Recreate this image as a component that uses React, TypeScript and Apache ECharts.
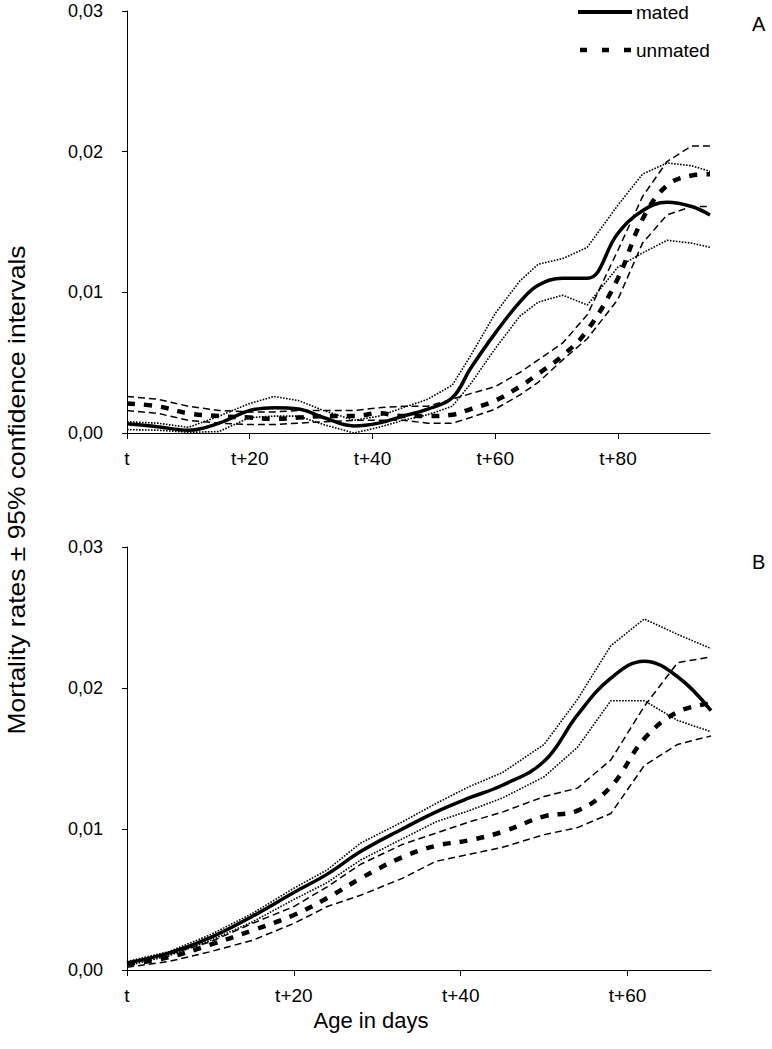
import React, { useEffect, useRef } from "react";
import * as echarts from "echarts";

// ---------- Panel A (x max 95 days) ----------
const daysA = [0, 5, 10, 15, 20, 24, 28, 32, 37, 41, 45, 49, 53, 56, 60, 64, 67, 71, 75, 80, 84, 88, 92, 95];
const matedA = [0.00066, 0.00045, 0.0002, 0.0007, 0.0016, 0.0018, 0.0017, 0.0011, 0.0005, 0.0007, 0.0012, 0.0017, 0.0025, 0.0046, 0.0071, 0.0093, 0.0105, 0.011, 0.011, 0.0142, 0.0158, 0.0164, 0.0161, 0.0155];
const matedUpA = [0.0008, 0.0007, 0.0004, 0.0012, 0.0021, 0.0026, 0.0023, 0.0016, 0.0009, 0.0012, 0.0018, 0.0024, 0.0034, 0.0055, 0.0085, 0.0108, 0.012, 0.0124, 0.0132, 0.0162, 0.0184, 0.0192, 0.019, 0.0186];
const matedLoA = [0.00024, 0.0002, 0.00005, 0.0001, 0.0011, 0.0012, 0.0012, 0.0006, 0.0, 0.0004, 0.0009, 0.0013, 0.0019, 0.0035, 0.006, 0.0083, 0.0093, 0.0098, 0.0091, 0.0118, 0.0128, 0.0137, 0.0135, 0.0132];
const unmatedA = [0.0021, 0.0019, 0.0014, 0.0012, 0.0011, 0.001, 0.0011, 0.0012, 0.0012, 0.0014, 0.0012, 0.0012, 0.0013, 0.0017, 0.0023, 0.0033, 0.0042, 0.0055, 0.0073, 0.011, 0.0152, 0.0176, 0.0183, 0.0184];
const unmatedUpA = [0.0026, 0.0024, 0.0019, 0.0016, 0.0015, 0.0015, 0.0016, 0.0016, 0.0016, 0.0018, 0.0019, 0.0019, 0.0024, 0.0028, 0.0033, 0.0043, 0.0052, 0.0064, 0.0084, 0.013, 0.0168, 0.0193, 0.0204, 0.0204];
const unmatedLoA = [0.0016, 0.0014, 0.0009, 0.0007, 0.0006, 0.0006, 0.0007, 0.0008, 0.0009, 0.0009, 0.0009, 0.0007, 0.0007, 0.0011, 0.0017, 0.0027, 0.0036, 0.0052, 0.0067, 0.0095, 0.0135, 0.0155, 0.0161, 0.0161];

// ---------- Panel B (x max 70 days) ----------
const daysB = [0, 5, 10, 15, 20, 24, 28, 33, 37, 41, 45, 50, 54, 58, 62, 66, 70];
const matedB = [0.0005, 0.0012, 0.0023, 0.0038, 0.0055, 0.0068, 0.0084, 0.01, 0.0112, 0.0122, 0.0131, 0.0148, 0.0181, 0.0207, 0.0219, 0.0208, 0.0184];
const matedUpB = [0.0006, 0.0013, 0.0025, 0.004, 0.0058, 0.0071, 0.009, 0.0105, 0.0118, 0.013, 0.014, 0.016, 0.0192, 0.023, 0.0249, 0.0238, 0.0228];
const matedLoB = [0.0003, 0.001, 0.0021, 0.0034, 0.005, 0.0062, 0.0078, 0.0093, 0.0105, 0.0113, 0.0122, 0.0137, 0.0158, 0.0191, 0.0191, 0.0177, 0.0169];
const unmatedB = [0.0004, 0.0009, 0.0018, 0.0028, 0.0039, 0.0051, 0.0065, 0.008, 0.0088, 0.0092, 0.0098, 0.0109, 0.0113, 0.013, 0.0164, 0.0183, 0.0189];
const unmatedUpB = [0.0005, 0.0011, 0.002, 0.0033, 0.0045, 0.0059, 0.0075, 0.0089, 0.0097, 0.0105, 0.0112, 0.0123, 0.0129, 0.0149, 0.0187, 0.0218, 0.0222];
const unmatedLoB = [0.0002, 0.0006, 0.0013, 0.0021, 0.0033, 0.0045, 0.0053, 0.0065, 0.0077, 0.0082, 0.0087, 0.0096, 0.0101, 0.0111, 0.0145, 0.016, 0.0166];

const xTicksA = [0, 20, 40, 60, 80];
const xTicksB = [0, 20, 40, 60];
const yTicks = [0, 0.01, 0.02, 0.03];

const FONT = "'Liberation Sans', Arial, sans-serif";
const BLACK = "#000000";

function pairs(xs: number[], ys: number[]) {
  return xs.map((x, i) => [x, ys[i]]);
}

function xLabel(v: number) {
  return v === 0 ? "t" : "t+" + v;
}

function yLabel(v: number) {
  return v.toFixed(2).replace(".", ",");
}

const styles = {
  mean: { color: BLACK, width: 3.5, type: "solid" as any },
  meanU: { color: BLACK, width: 4.5, type: [8, 9] as any },
  ciM: { color: BLACK, width: 1.6, type: [1.6, 1.4] as any },
  ciU: { color: BLACK, width: 1.5, type: [7, 4] as any },
};

function line(name: string, xi: number, data: number[][], ls: any, smooth: number) {
  return {
    name,
    type: "line",
    xAxisIndex: xi,
    yAxisIndex: xi,
    data,
    showSymbol: false,
    symbol: "none",
    smooth,
    lineStyle: ls,
    silent: true,
    z: ls.width > 3 ? 3 : 2,
  };
}

function xAxis(grid: number, max: number, ticks: number[]) {
  return {
    type: "value",
    gridIndex: grid,
    min: 0,
    max,
    interval: 20,
    axisLine: { show: true, onZero: false, lineStyle: { color: BLACK, width: 1 } },
    axisTick: { show: true, length: 6, customValues: ticks, lineStyle: { color: BLACK } },
    axisLabel: { customValues: ticks, formatter: xLabel, color: BLACK, fontSize: 19, fontFamily: FONT, margin: 16 },
    splitLine: { show: false },
  };
}

function yAxis(grid: number) {
  return {
    type: "value",
    gridIndex: grid,
    min: 0,
    max: 0.03,
    interval: 0.01,
    axisLine: { show: true, lineStyle: { color: BLACK, width: 1 } },
    axisTick: { show: true, length: 5, customValues: yTicks, lineStyle: { color: BLACK } },
    axisLabel: { customValues: yTicks, formatter: yLabel, color: BLACK, fontSize: 18, fontFamily: FONT, margin: 24 },
    splitLine: { show: false },
  };
}

export default function App() {
  const ref = useRef<HTMLDivElement>(null);
  useEffect(() => {
    document.body.style.margin = "0";
    const chart = echarts.init(ref.current!, null, { renderer: "svg" });
    const option: any = {
      animation: false,
      backgroundColor: "#ffffff",
      grid: [
        { left: 127, top: 11, width: 583, height: 422 },
        { left: 127, top: 547, width: 584, height: 423 },
      ],
      xAxis: [xAxis(0, 95, xTicksA), xAxis(1, 70, xTicksB)],
      yAxis: [yAxis(0), yAxis(1)],
      series: [
        line("mated upper A", 0, pairs(daysA, matedUpA), styles.ciM, 0),
        line("mated lower A", 0, pairs(daysA, matedLoA), styles.ciM, 0),
        line("unmated upper A", 0, pairs(daysA, unmatedUpA), styles.ciU, 0),
        line("unmated lower A", 0, pairs(daysA, unmatedLoA), styles.ciU, 0),
        line("mated", 0, pairs(daysA, matedA), styles.mean, 0.4),
        line("unmated", 0, pairs(daysA, unmatedA), styles.meanU, 0.4),
        line("mated upper B", 1, pairs(daysB, matedUpB), styles.ciM, 0),
        line("mated lower B", 1, pairs(daysB, matedLoB), styles.ciM, 0),
        line("unmated upper B", 1, pairs(daysB, unmatedUpB), styles.ciU, 0),
        line("unmated lower B", 1, pairs(daysB, unmatedLoB), styles.ciU, 0),
        line("mated B", 1, pairs(daysB, matedB), styles.mean, 0.4),
        line("unmated B", 1, pairs(daysB, unmatedB), styles.meanU, 0.4),
      ],
      graphic: [
        { type: "line", shape: { x1: 578, y1: 12, x2: 632, y2: 12 }, style: { stroke: BLACK, lineWidth: 4 } },
        { type: "text", x: 636, y: 12, style: { text: "mated", fill: BLACK, font: `19px ${FONT}`, verticalAlign: "middle" } },
        { type: "line", shape: { x1: 580, y1: 50, x2: 632, y2: 50 }, style: { stroke: BLACK, lineWidth: 4.5, lineDash: [7, 15] } },
        { type: "text", x: 636, y: 50, style: { text: "unmated", fill: BLACK, font: `19px ${FONT}`, verticalAlign: "middle" } },
        { type: "text", x: 752, y: 24, style: { text: "A", fill: BLACK, font: `20px ${FONT}`, verticalAlign: "middle" } },
        { type: "text", x: 752, y: 562, style: { text: "B", fill: BLACK, font: `20px ${FONT}`, verticalAlign: "middle" } },
        { type: "text", x: 371, y: 1020, style: { text: "Age in days", fill: BLACK, font: `22px ${FONT}`, align: "center", verticalAlign: "middle" } },
        { type: "text", x: 17, y: 490, rotation: Math.PI / 2, scaleX: 1.15, style: { text: "Mortality rates ± 95% confidence intervals", fill: BLACK, font: `23px ${FONT}`, align: "center", verticalAlign: "middle" } },
      ],
    };
    chart.setOption(option);
    return () => chart.dispose();
  }, []);
  return <div ref={ref} style={{ width: 772, height: 1049, position: "absolute", left: 0, top: 0 }} />;
}
